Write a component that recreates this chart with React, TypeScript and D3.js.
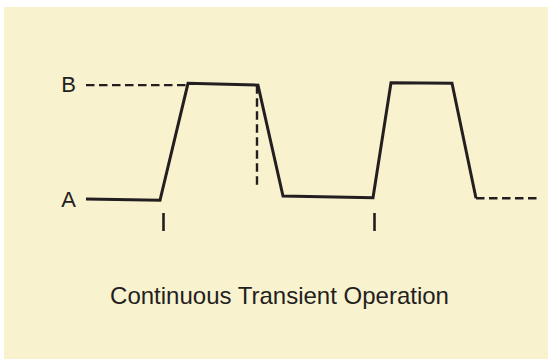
import React, { useEffect, useRef } from "react";
import * as d3 from "d3";

// time positions of the corners of the operating curve (arbitrary units)
const times = [0, 74, 102, 172, 197, 287, 305, 366, 390];
// level of each corner: 0 = A, 1 = B
const levels = [0, -0.011, 1.006, 0.99, 0.026, 0.011, 1.011, 1.006, 0.006];
// dashed continuation after the last corner
const tailTimes = [390, 451];
const tailLevels = [0.006, 0.006];
// dashed guide to level B and the dashed drop marker
const guideTimes = [0, 102];
const guideLevels = [0.99, 0.99];
const dropTimes = [171, 171];
const dropLevels = [0.99, 0.096];
// start markers under the rising edges
const markTimes = [77, 288];
// level names
const levelNames = ["A", "B"];
const title = "Continuous Transient Operation";

const W = 548;
const H = 359;
const ink = "#231f20";
const font = "'Liberation Sans', Arial, sans-serif";

export default function App() {
  const ref = useRef<SVGSVGElement>(null);

  useEffect(() => {
    const svg = d3.select(ref.current);
    svg.selectAll("*").remove();

    // background panel
    svg
      .append("rect")
      .attr("x", 4)
      .attr("y", 7)
      .attr("width", W - 4)
      .attr("height", H - 7)
      .attr("fill", "#f8f2cf");

    const x = d3.scaleLinear().domain([0, 451]).range([86, 537]);
    const y = d3.scaleLinear().domain([0, 1]).range([199, 84]);

    const line = d3
      .line<[number, number]>()
      .x((d) => x(d[0]))
      .y((d) => y(d[1]));

    const zip = (ts: number[], ls: number[]) =>
      ts.map((t, i) => [t, ls[i]] as [number, number]);

    // dashed guides
    [
      zip(guideTimes, guideLevels),
      zip(dropTimes, dropLevels),
      zip(tailTimes, tailLevels),
    ].forEach((pts) => {
      svg
        .append("path")
        .datum(pts)
        .attr("fill", "none")
        .attr("stroke", ink)
        .attr("stroke-width", 2.4)
        .attr("stroke-dasharray", "8.5,4.5")
        .attr("d", line);
    });

    // main curve
    svg
      .append("path")
      .datum(zip(times, levels))
      .attr("fill", "none")
      .attr("stroke", ink)
      .attr("stroke-width", 3)
      .attr("stroke-linejoin", "miter")
      .attr("d", line);

    // level labels A / B
    const yAxis = svg
      .append("g")
      .attr("transform", `translate(${x(0)},0)`)
      .call(
        d3
          .axisLeft(y)
          .tickValues([0, 1])
          .tickSize(0)
          .tickPadding(10)
          .tickFormat((d) => levelNames[d as number])
      )
      .attr("font-size", 22)
      .attr("font-family", font);
    yAxis.select(".domain").remove();
    yAxis.selectAll("text").attr("fill", ink).attr("font-size", 22);

    // start markers
    const xAxis = svg
      .append("g")
      .attr("transform", "translate(0,213)")
      .call(
        d3
          .axisBottom(x)
          .tickValues(markTimes)
          .tickSize(18)
          .tickFormat(() => "")
      );
    xAxis.select(".domain").remove();
    xAxis.selectAll("line").attr("stroke", ink).attr("stroke-width", 2.6);

    // caption
    svg
      .append("text")
      .attr("x", 279.5)
      .attr("y", 304)
      .attr("text-anchor", "middle")
      .attr("fill", ink)
      .style("font-family", font)
      .style("font-size", "24px")
      .text(title);
  }, []);

  return (
    <svg
      ref={ref}
      width={W}
      height={H}
      style={{ position: "absolute", left: 0, top: 0, background: "#fff" }}
    />
  );
}
